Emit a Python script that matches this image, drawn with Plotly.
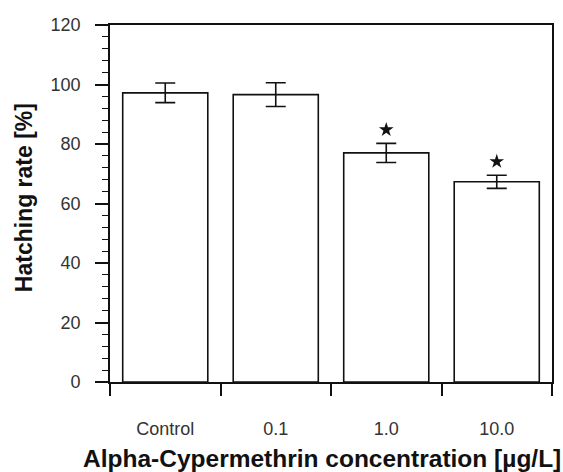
import plotly.graph_objects as go

# hatching rate per alpha-cypermethrin concentration
categories = ["Control", "0.1", "1.0", "10.0"]
hatch_mean = [97.2, 96.6, 77.0, 67.3]
hatch_sd = [3.3, 4.0, 3.2, 2.2]
significant = [False, False, True, True]

x_pos = list(range(len(categories)))
star_gap = 4.6
star_x = [x for x, s in zip(x_pos, significant) if s]
star_y = [m + e + star_gap for m, e, s in zip(hatch_mean, hatch_sd, significant) if s]

font_family = "Liberation Sans, Arial, sans-serif"

fig = go.Figure()

fig.add_trace(go.Bar(
    x=x_pos,
    y=hatch_mean,
    width=0.77,
    marker=dict(color="white", line=dict(color="#111", width=1.6)),
    error_y=dict(type="data", array=hatch_sd, visible=True,
                 color="#111", thickness=1.6, width=10),
    showlegend=False,
))

fig.add_trace(go.Scatter(
    x=star_x,
    y=star_y,
    mode="markers",
    marker=dict(symbol="star", size=11, color="#111"),
    showlegend=False,
))

fig.update_xaxes(
    range=[-0.5, 3.5],
    tickvals=x_pos,
    ticktext=categories,
    ticks="",
    ticklabelstandoff=30,
    tickfont=dict(size=18, color="#333", family=font_family),
    showline=True, linecolor="#111", linewidth=1.6, mirror=True,
    showgrid=False, zeroline=False,
    minor=dict(tick0=0.5, dtick=1, ticks="outside", ticklen=12,
               tickcolor="#111", tickwidth=1.6),
)

fig.update_yaxes(
    range=[0, 120],
    dtick=20,
    ticks="outside", ticklen=13, tickwidth=1.6, tickcolor="#111",
    ticklabelstandoff=11,
    tickfont=dict(size=18, color="#333", family=font_family),
    showline=True, linecolor="#111", linewidth=1.6, mirror=True,
    showgrid=False, zeroline=False,
    minor=dict(dtick=4, ticks="outside", ticklen=6,
               tickcolor="#111", tickwidth=1.2),
)

fig.add_annotation(
    text="<b>Hatching rate [%]</b>", textangle=-90,
    xref="paper", yref="paper", x=-0.196, y=0.516,
    xanchor="center", yanchor="middle", showarrow=False,
    font=dict(size=23, color="#111", family=font_family),
)
fig.add_annotation(
    text="<b>Alpha-Cypermethrin concentration [µg/L]</b>",
    xref="paper", yref="paper", x=0.479, y=-0.213,
    xanchor="center", yanchor="middle", showarrow=False,
    font=dict(size=24.5, color="#111", family=font_family),
)

fig.update_layout(
    width=563, height=472,
    margin=dict(l=110, r=9, t=25, b=90),
    plot_bgcolor="white",
    paper_bgcolor="white",
    font=dict(family=font_family),
)

fig.write_html("out.html", config={"displayModeBar": False},
               post_script="document.body.style.margin='0';")
